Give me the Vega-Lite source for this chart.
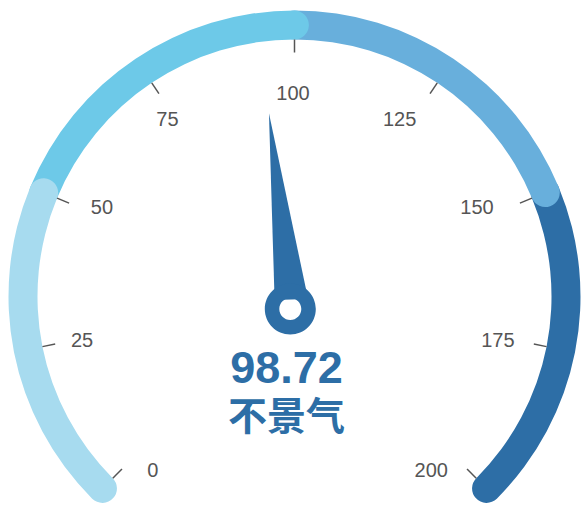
{
  "$schema": "https://vega.github.io/schema/vega-lite/v6.json",
  "width": 575,
  "height": 419,
  "padding": {"left": 7, "top": 87, "right": 0, "bottom": 0},
  "autosize": {"type": "none"},
  "background": "white",
  "config": {"view": {"stroke": null}},
  "datasets": {
    "bands": [
      {"band": "d", "start": 150, "end": 200},
      {"band": "c", "start": 100, "end": 150},
      {"band": "b", "start": 50, "end": 100},
      {"band": "a", "start": 0, "end": 50}
    ],
    "ticks": [
      {"v": 0}, {"v": 25}, {"v": 50}, {"v": 75}, {"v": 100},
      {"v": 125}, {"v": 150}, {"v": 175}, {"v": 200}
    ],
    "gauge": [{"value": 98.72, "status": "不景气"}]
  },
  "layer": [
    {
      "data": {"name": "bands"},
      "mark": {"type": "arc", "radius": 286, "radius2": 257, "cornerRadius": 14.5, "thetaOffset": -0.053, "theta2Offset": 0.053},
      "encoding": {
        "theta": {"field": "start", "type": "quantitative", "stack": null, "scale": {"domain": [0, 200], "range": [-2.35619, 2.35619]}},
        "theta2": {"field": "end"},
        "color": {"field": "band", "type": "nominal", "legend": null, "scale": {"domain": ["a", "b", "c", "d"], "range": ["#a7dbef", "#6dc9e8", "#68afdc", "#2d6ea6"]}}
      }
    },
    {
      "data": {"name": "ticks"},
      "mark": {"type": "point", "shape": "M 0 -244 L 0 -257", "size": 4, "filled": false, "stroke": "#555555", "strokeWidth": 1.5, "opacity": 1},
      "encoding": {
        "angle": {"field": "v", "type": "quantitative", "scale": {"domain": [0, 200], "range": [-135, 135]}}
      }
    },
    {
      "data": {"name": "ticks"},
      "transform": [{"filter": "datum.v == 100"}],
      "mark": {"type": "text", "radius": 203, "dx": -1.5, "fontSize": 20, "font": "Liberation Sans", "color": "#555555", "align": "center", "baseline": "middle"},
      "encoding": {
        "theta": {"field": "v", "type": "quantitative", "scale": {"domain": [0, 200], "range": [-2.35619, 2.35619]}},
        "text": {"field": "v", "type": "quantitative"}
      }
    },
    {
      "data": {"name": "ticks"},
      "transform": [{"filter": "datum.v == 75 || datum.v == 125"}],
      "mark": {"type": "text", "radius": 209, "dx": -11, "dy": -3, "fontSize": 20, "font": "Liberation Sans", "color": "#555555", "align": "center", "baseline": "middle"},
      "encoding": {
        "theta": {"field": "v", "type": "quantitative", "scale": {"domain": [0, 200], "range": [-2.35619, 2.35619]}},
        "text": {"field": "v", "type": "quantitative"}
      }
    },
    {
      "data": {"name": "ticks"},
      "transform": [{"filter": "datum.v == 50 || datum.v == 150"}],
      "mark": {"type": "text", "radius": 203, "dx": -5, "dy": -10.5, "fontSize": 20, "font": "Liberation Sans", "color": "#555555", "align": "center", "baseline": "middle"},
      "encoding": {
        "theta": {"field": "v", "type": "quantitative", "scale": {"domain": [0, 200], "range": [-2.35619, 2.35619]}},
        "text": {"field": "v", "type": "quantitative"}
      }
    },
    {
      "data": {"name": "ticks"},
      "transform": [{"filter": "datum.v == 25 || datum.v == 175"}],
      "mark": {"type": "text", "radius": 212, "dx": -4.5, "dy": 3, "fontSize": 20, "font": "Liberation Sans", "color": "#555555", "align": "center", "baseline": "middle"},
      "encoding": {
        "theta": {"field": "v", "type": "quantitative", "scale": {"domain": [0, 200], "range": [-2.35619, 2.35619]}},
        "text": {"field": "v", "type": "quantitative"}
      }
    },
    {
      "data": {"name": "ticks"},
      "transform": [{"filter": "datum.v == 0 || datum.v == 200"}],
      "mark": {"type": "text", "radius": 197, "dx": -2.5, "dy": 35, "fontSize": 20, "font": "Liberation Sans", "color": "#555555", "align": "center", "baseline": "middle"},
      "encoding": {
        "theta": {"field": "v", "type": "quantitative", "scale": {"domain": [0, 200], "range": [-2.35619, 2.35619]}},
        "text": {"field": "v", "type": "quantitative"}
      }
    },
    {
      "data": {"name": "gauge"},
      "mark": {"type": "point", "shape": "M -20 -184 L 13.5 3 L -20 3 Z", "size": 4, "filled": true, "color": "#2d6ea6", "opacity": 1, "strokeWidth": 0},
      "encoding": {
        "angle": {"field": "value", "type": "quantitative", "scale": {"domain": [0, 200], "range": [-135, 135]}}
      }
    },
    {
      "data": {"name": "gauge"},
      "mark": {"type": "point", "shape": "M -29.7 12.5 A 25.5 25.5 0 1 1 21.3 12.5 A 25.5 25.5 0 1 1 -29.7 12.5 Z M -15.2 12.5 A 11 11 0 1 0 6.8 12.5 A 11 11 0 1 0 -15.2 12.5 Z", "size": 4, "filled": true, "color": "#2d6ea6", "opacity": 1, "strokeWidth": 0}
    },
    {
      "data": {"name": "gauge"},
      "mark": {"type": "text", "dx": -8, "dy": 86, "fontSize": 45, "font": "Liberation Sans", "fontWeight": "bold", "color": "#2d6ea6", "align": "center", "baseline": "alphabetic"},
      "encoding": {"text": {"field": "value", "type": "quantitative", "format": ".2f"}}
    },
    {
      "data": {"name": "gauge"},
      "mark": {"type": "text", "dx": -8, "dy": 121, "fontSize": 39, "font": "Noto Sans CJK SC", "fontWeight": "bold", "color": "#2d6ea6", "align": "center", "baseline": "middle"},
      "encoding": {"text": {"field": "status", "type": "nominal"}}
    }
  ]
}
